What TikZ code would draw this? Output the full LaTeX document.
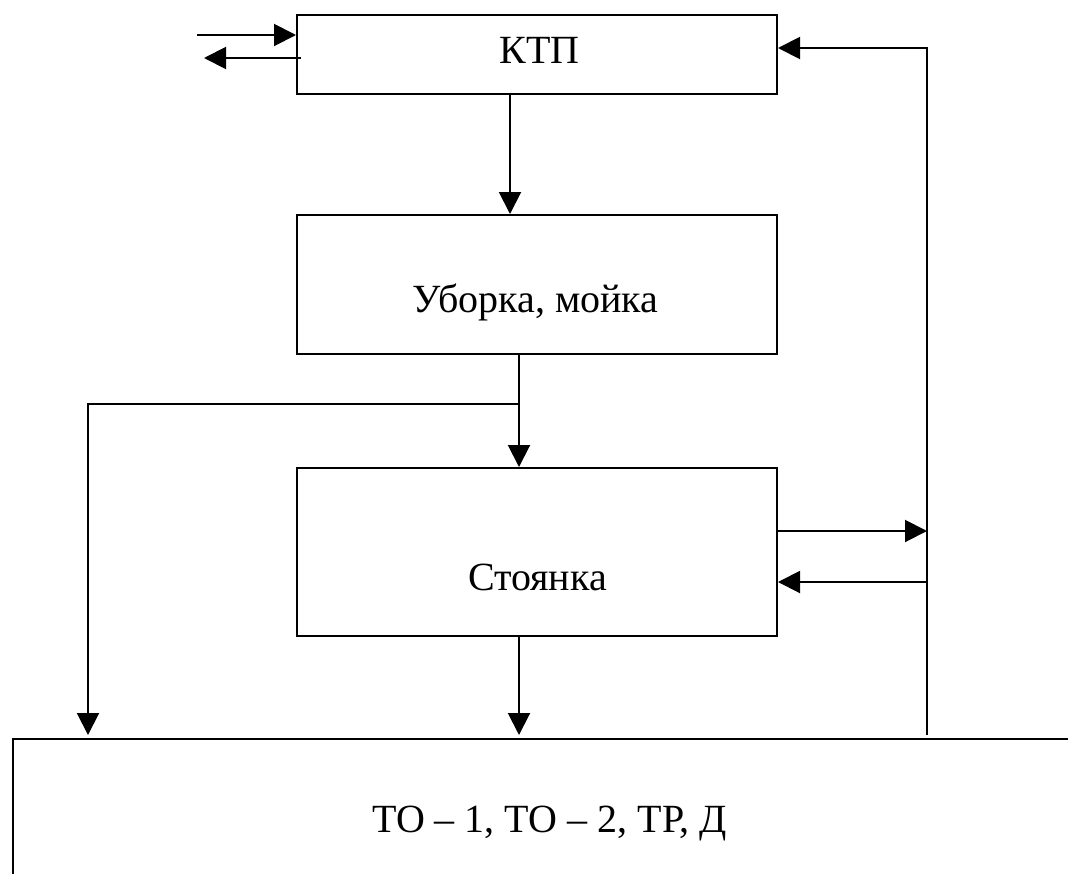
\documentclass[tikz,border=0pt]{standalone}
\usepackage{fontspec}
\setmainfont{Liberation Serif}
\usetikzlibrary{arrows.meta}
\begin{document}
\begin{tikzpicture}[x=1pt,y=-1pt,
  box/.style={draw,line width=2pt,minimum width=480pt,inner sep=0pt},
  lbl/.style={font=\fontsize{40}{44}\selectfont,inner sep=0pt,anchor=base},
  arr/.style={line width=2pt,-{Triangle[length=22pt,width=22pt]}}]
\useasboundingbox (0,0) rectangle (1068,873);
\clip (0,0) rectangle (1068,873);
\node[box,minimum height=79pt] (ktp) at (537,54.5) {};
\node[box,minimum height=139pt] (ub) at (537,284.5) {};
\node[box,minimum height=168pt] (st) at (537,552) {};
\node[draw,line width=2pt,minimum width=1108pt,minimum height=200pt,inner sep=0pt,anchor=north west] (to) at (12,738) {};
\node[lbl] (ktpl) at (539.5,63) {КТП};
\node[lbl] (ubl) at (535.5,312) {Уборка, мойка};
\node[lbl] (stl) at (537.5,590) {Стоянка};
\node[lbl,anchor=base west] (tol) at (372,832) {ТО – 1, ТО – 2, ТР, Д};
% left arrows
\coordinate (inL) at (197,35);
\coordinate (outL) at (204,58);
\draw[arr] (inL) -- (inL -| ktp.west);
\draw[arr] ([xshift=5pt]outL -| ktp.west) -- (outL);
% ktp -> ub
\draw[arr] ([xshift=-27pt]ktp.south) -- ([xshift=-27pt]ub.north);
% ub -> st with branch
\coordinate (br) at (519,404);
\coordinate (la) at (88,0);
\draw[arr] ([xshift=-18pt]ub.south) -- ([xshift=-18pt]st.north);
\draw[arr] (br) -| ([yshift=3pt]la |- to.north);
% st -> to
\draw[arr] ([xshift=-18pt]st.south) -- ([yshift=3pt,xshift=-18pt]st.south |- to.north);
% right feedback
\coordinate (rt) at (927,735);
\coordinate (so) at ([yshift=21pt]st.east);
\coordinate (si) at ([yshift=-30pt]st.east);
\draw[arr] (rt) |- ([yshift=6.5pt]ktp.east);
\draw[arr] (so) -- (rt |- so);
\draw[arr] (rt |- si) -- (si);
\end{tikzpicture}
\end{document}
